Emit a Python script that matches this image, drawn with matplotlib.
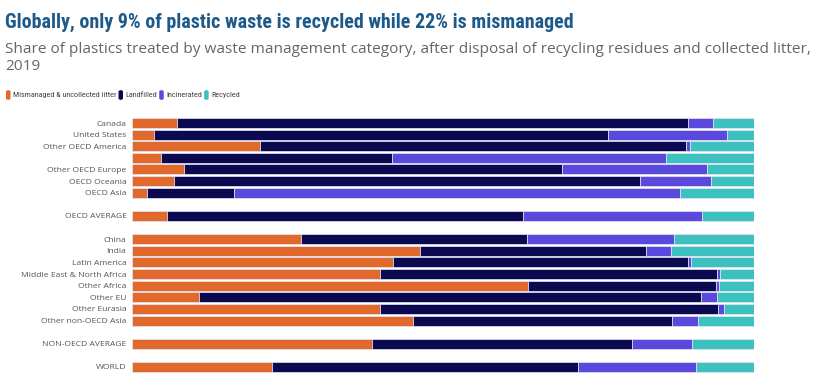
import matplotlib.pyplot as plt
from matplotlib.patches import FancyBboxPatch
from matplotlib import font_manager

# данные (доли, %)
regions = ['Canada', 'United States', 'Other OECD America', '',
           'Other OECD Europe', 'OECD Oceania', 'OECD Asia',
           'OECD AVERAGE',
           'China', 'India', 'Latin America', 'Middle East & North Africa',
           'Other Africa', 'Other EU', 'Other Eurasia', 'Other non-OECD Asia',
           'NON-OECD AVERAGE', 'WORLD']
slots = [0, 1, 2, 3, 4, 5, 6, 8, 10, 11, 12, 13, 14, 15, 16, 17, 19, 21]

categories = ['Mismanaged & uncollected litter', 'Landfilled', 'Incinerated', 'Recycled']
mismanaged = [7.2, 3.5, 20.6, 4.7, 8.4, 6.8, 2.4, 5.6,
              27.2, 46.3, 42.0, 39.9, 63.7, 10.8, 39.9, 45.2, 38.6, 22.5]
landfilled = [82.2, 73.0, 68.5, 37.1, 60.8, 74.9, 14.0, 57.2,
              36.3, 36.3, 47.4, 54.2, 30.2, 80.7, 54.3, 41.6, 41.8, 49.2]
incinerated = [4.0, 19.1, 0.6, 44.1, 23.3, 11.4, 71.7, 28.8,
               23.6, 4.0, 0.5, 0.5, 0.5, 2.6, 1.0, 4.2, 9.6, 19.0]
recycled = [6.6, 4.4, 10.3, 14.1, 7.5, 6.9, 11.9, 8.4,
            12.9, 13.4, 10.1, 5.4, 5.6, 5.9, 4.8, 9.0, 10.0, 9.3]

colors = ['#e2692c', '#0b0a50', '#5a49dc', '#3cc1bf']

# узкий шрифт для заголовка - берём первый, что есть
installed = {f.name for f in font_manager.fontManager.ttflist}
narrow = 'DejaVu Sans'
for name in ['Roboto Condensed', 'Fira Sans Condensed', 'Oswald', 'Barlow Condensed',
             'PT Sans Narrow', 'Archivo Narrow', 'Liberation Sans Narrow']:
    if name in installed:
        narrow = name
        break

fig = plt.figure(figsize=(8.31, 3.9), dpi=100)

ax = fig.add_axes([132 / 831, 1 - 372.8 / 390, 622 / 831, (372.8 - 117.2) / 390])
left = [0.0] * len(regions)
for vals, col in zip([mismanaged, landfilled, incinerated, recycled], colors):
    ax.barh(slots, vals, left=left, height=0.86, color=col,
            edgecolor='#e4e6f6', linewidth=0.5)
    left = [l + v for l, v in zip(left, vals)]

ax.set_xlim(0, 100)
ax.set_ylim(21.5, -0.5)
ax.set_yticks(slots)
ax.set_yticklabels(regions, fontsize=6.1, color='#555555', family='Open Sans')
ax.tick_params(axis='y', length=0, pad=4)
ax.set_xticks([])
for s in ax.spines.values():
    s.set_visible(False)

fig.canvas.draw()
renderer = fig.canvas.get_renderer()

title = fig.text(5 / 831, 1 - 22 / 390,
                 'Globally, only 9% of plastic waste is recycled while 22% is mismanaged',
                 fontsize=14, fontweight='bold', color='#1d5a8a', va='center',
                 family=narrow)
w = title.get_window_extent(renderer).width
title.set_fontsize(min(16, 14 * 572 / w))

fig.text(5 / 831, 1 - 58 / 390,
         'Share of plastics treated by waste management category, after disposal of recycling residues and collected litter,\n2019',
         fontsize=11.1, color='#666666', va='center', linespacing=1.1, family='Open Sans')

# легенда
x = 6
y = 95
for name, col in zip(categories, colors):
    fig.patches.append(FancyBboxPatch((x / 831, 1 - (y + 5) / 390), 4.5 / 831, 10 / 390,
                                      boxstyle='round,pad=0,rounding_size=0.004',
                                      transform=fig.transFigure, facecolor=col,
                                      edgecolor='none'))
    t = fig.text((x + 7) / 831, 1 - y / 390, name, fontsize=5.9, color='#444444',
                 va='center', family=narrow)
    bb = t.get_window_extent(renderer)
    x = bb.x1 + 2

fig.savefig('out.png', dpi=100)
